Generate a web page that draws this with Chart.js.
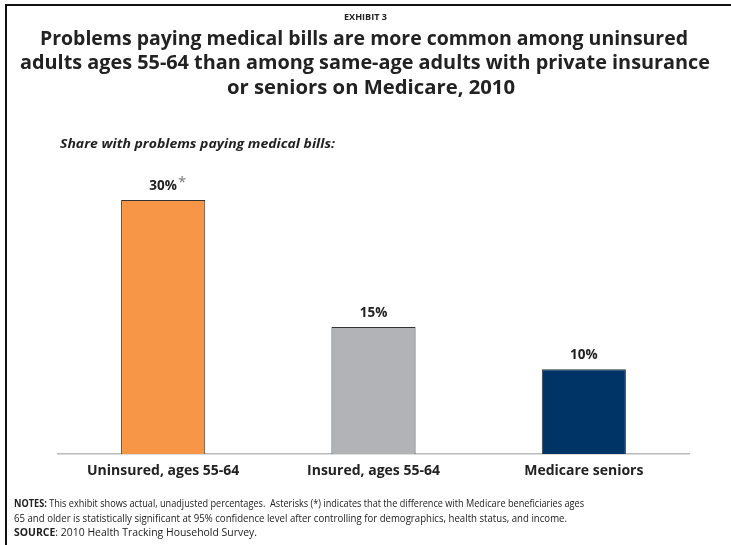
<!DOCTYPE html>
<html>
<head>
<meta charset="utf-8">
<script src="https://cdn.jsdelivr.net/npm/chart.js@4.4.1/dist/chart.umd.min.js"></script>
<style>
  html, body { margin: 0; padding: 0; background: #fff; }
  body { width: 731px; height: 545px; position: relative; overflow: hidden;
         font-family: "Open Sans", sans-serif; color: #222; }
  #frameTop { position: absolute; left: 5px; top: 4px; width: 726px; height: 2px; background: #111; }
  #frameLeft { position: absolute; left: 5px; top: 4px; width: 2px; height: 541px; background: #111; }
  .ln { position: absolute; white-space: nowrap; transform-origin: 0 50%; display: inline-block; }
  .exh { font-size: 8.5px; font-weight: bold; line-height: 12px; }
  .ttl { font-size: 19.5px; font-weight: bold; line-height: 26px; }
  .sub { font-size: 13px; font-weight: bold; font-style: italic; line-height: 18px; }
  .nt { font-size: 10.5px; line-height: 14px; }
  #wrap { position: absolute; left: 0; top: 0; width: 731px; height: 545px; }
</style>
</head>
<body>
<div id="wrap"><canvas id="mycanvas" width="731" height="545"></canvas></div>
<div id="frameTop"></div>
<div id="frameLeft"></div>
<div class="ln exh" data-x="344" data-y="17" data-w="43">EXHIBIT 3</div>
<div class="ln ttl" data-x="40" data-y="38" data-w="648">Problems paying medical bills are more common among uninsured</div>
<div class="ln ttl" data-x="20" data-y="62" data-w="690">adults ages 55-64 than among same-age adults with private insurance</div>
<div class="ln ttl" data-x="227" data-y="87" data-w="288">or seniors on Medicare, 2010</div>
<div class="ln sub" data-x="60" data-y="143" data-w="275">Share with problems paying medical bills:</div>
<div class="ln nt" data-x="14" data-y="503" data-w="570"><b>NOTES:</b> This exhibit shows actual, unadjusted percentages.&nbsp; Asterisks (*) indicates that the difference with Medicare beneficiaries ages</div>
<div class="ln nt" data-x="14" data-y="518" data-w="553">65 and older is statistically significant at 95% confidence level after controlling for demographics, health status, and income.</div>
<div class="ln nt" data-x="14" data-y="532" data-w="243"><b>SOURCE</b>: 2010 Health Tracking Household Survey.</div>
<script>
var groups = ['Uninsured, ages 55-64', 'Insured, ages 55-64', 'Medicare seniors'];
var share = [30, 15, 10];
var valueLabels = ['30%', '15%', '10%'];
var significant = [true, false, false];
var barColors = ['#f79646', '#b1b3b6', '#003366'];

var FONT = '"Open Sans", sans-serif';

// squeeze the html text lines to the width of the original (narrow font there)
document.querySelectorAll('.ln').forEach(function(el) {
  var r = el.getBoundingClientRect();
  el.style.left = el.dataset.x + 'px';
  el.style.top = (el.dataset.y - r.height / 2) + 'px';
  el.style.transform = 'scaleX(' + (el.dataset.w / r.width) + ')';
});

// value labels on top of the bars, with asterisk where significant
var topLabels = {
  id: 'topLabels',
  afterDatasetsDraw: function(chart) {
    var ctx = chart.ctx;
    var meta = chart.getDatasetMeta(0);
    ctx.save();
    ctx.textAlign = 'center';
    ctx.textBaseline = 'bottom';
    meta.data.forEach(function(bar, i) {
      ctx.font = 'bold 13.5px ' + FONT;
      ctx.fillStyle = '#222';
      var y = bar.y - 7;
      ctx.fillText(valueLabels[i], bar.x, y);
      if (significant[i]) {
        var w = ctx.measureText(valueLabels[i]).width;
        ctx.font = '15px ' + FONT;
        ctx.fillStyle = '#777';
        ctx.textAlign = 'left';
        ctx.fillText('*', bar.x + w / 2 + 1, y - 3);
        ctx.textAlign = 'center';
      }
    });
    ctx.restore();
  }
};

var chartdata = {
  labels: groups,
  datasets: [{
    label: 'Share with problems paying medical bills',
    data: share,
    backgroundColor: barColors,
    borderColor: '#333',
    borderWidth: 1,
    barPercentage: 0.4,
    categoryPercentage: 1.0
  }]
};

var barGraph = new Chart(document.getElementById('mycanvas'), {
  type: 'bar',
  data: chartdata,
  plugins: [topLabels],
  options: {
    responsive: false,
    animation: false,
    layout: { padding: { left: 58, right: 42, top: 157.6, bottom: 0 } },
    plugins: { legend: { display: false }, tooltip: { enabled: false } },
    scales: {
      y: { display: false, min: 0, max: 35 },
      x: {
        grid: { display: false, drawTicks: false },
        border: { display: true, color: '#bbbbbb', width: 1.5 },
        ticks: { color: '#222', padding: 9, font: { family: FONT, size: 14, weight: 'bold' } },
        afterFit: function(scale) { scale.height = 91; }
      }
    }
  }
});
</script>
</body>
</html>
